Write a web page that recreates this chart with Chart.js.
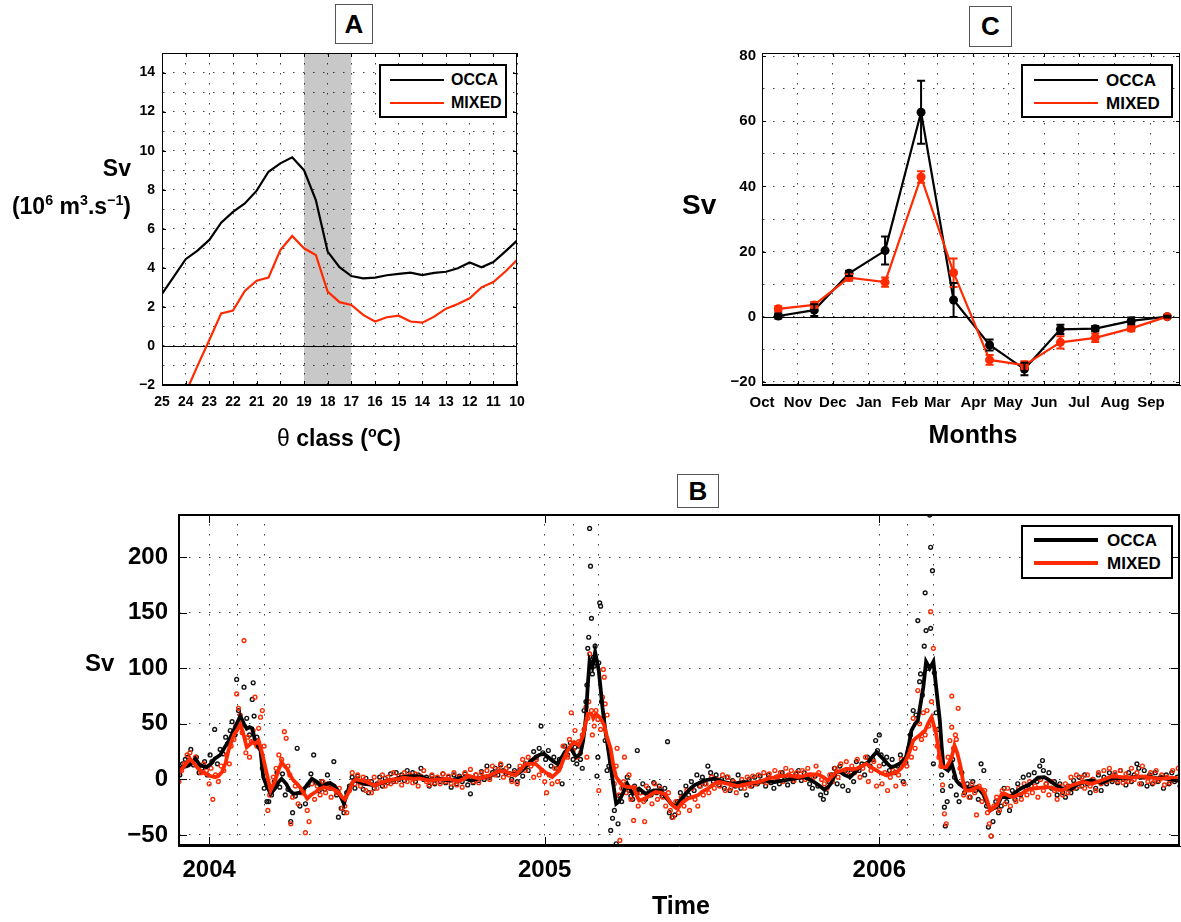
<!DOCTYPE html>
<html><head><meta charset="utf-8">
<script src="https://cdn.jsdelivr.net/npm/chart.js@4.4.0/dist/chart.umd.min.js"></script>
<style>
body{margin:0;background:#fff;}
#wrap{position:relative;width:1181px;height:922px;overflow:hidden;background:#fff;font-family:'Liberation Sans',Arial,Helvetica,sans-serif;font-weight:bold;color:#000;}
canvas{position:absolute;}
.t{position:absolute;white-space:nowrap;line-height:1;}
.t sup{font-size:0.62em;vertical-align:0.62em;line-height:0;}
.tbox{position:absolute;border:1.5px solid #555;background:#fff;box-sizing:border-box;display:flex;align-items:center;justify-content:center;font-size:26px;}
.leg{position:absolute;border:2px solid #000;background:#fff;box-sizing:border-box;}
.ln{position:absolute;}
</style></head>
<body><div id="wrap">
<canvas id="cA" width="540" height="460" style="left:0;top:0"></canvas>
<canvas id="cC" width="501" height="460" style="left:680px;top:0"></canvas>
<canvas id="cB" width="1181" height="462" style="left:0;top:460px"></canvas>
</div>
<script>
// ---------------- DATA ----------------
// Panel A : transport by theta class
const thetaClass = [25,24.5,24,23.5,23,22.5,22,21.5,21,20.5,20,19.5,19,18.5,18,17.5,17,16.5,16,15.5,15,14.5,14,13.5,13,12.5,12,11.5,11,10.5,10];
const occaTheta  = [2.66,3.55,4.44,4.88,5.43,6.31,6.86,7.30,7.95,8.92,9.35,9.66,9.00,7.47,4.83,4.03,3.58,3.46,3.50,3.62,3.69,3.75,3.63,3.74,3.80,3.98,4.27,4.03,4.30,4.83,5.39];
const mixedTheta = [null,null,-2.4,-1.02,0.30,1.67,1.81,2.82,3.34,3.50,4.91,5.63,5.00,4.66,2.78,2.24,2.10,1.59,1.25,1.47,1.55,1.25,1.19,1.50,1.91,2.15,2.44,3.00,3.27,3.80,4.40];
const thetaTicks = [10,11,12,13,14,15,16,17,18,19,20,21,22,23,24,25];
const svTicksA = [-2,-1,0,1,2,3,4,5,6,7,8,9,10,11,12,13,14,15];
const grayBand = [17,19];

// Panel C : monthly climatology (days since 1 Oct)
const monthStart = [0,31,61,92,123,151,182,212,243,273,304,335];
const monthNames = ['Oct','Nov','Dec','Jan','Feb','Mar','Apr','May','Jun','Jul','Aug','Sep'];
const monthMid = [14,45,75,106,137,165,196,226,257,287,318,349];
const occaMonthly  = [0.2,2.0,13.3,20.3,62.8,5.1,-8.7,-16.1,-3.9,-3.7,-1.3,0];
const occaErr      = [0.8,1.8,0.8,4.3,9.7,5.2,1.7,1.9,1.4,0.8,1.0,0.3];
const mixedMonthly = [2.4,3.6,12.0,10.6,42.9,13.5,-13.3,-14.9,-7.9,-6.5,-3.6,0];
const mixedErr     = [0.8,0.9,1.0,1.4,1.8,4.4,1.5,1.2,1.9,1.3,0.9,0.3];
const svTicksC = [-20,-10,0,10,20,30,40,50,60,70,80];

// Panel B : time series (days since 1 Jan 2004)
const yearDays = [0,366,731];
const yearLabels = ['2004','2005','2006'];
const febMarDays = [31,60,397,425,762,790];
const svTicksB = [-50,0,50,100,150,200];

const occaSmoothDays = [-34,-33,-28,-22,-15,-10,-3,2,6,12,17,21,25,30,34,38,41,44,47,50,53,56,59,63,67,72,76,79,84,88,92,99,105,112,117,123,128,132,137,141,147,152,158,163,169,174,180,185,191,196,201,208,216,223,231,236,242,247,253,258,263,268,274,280,285,290,296,302,307,313,318,323,329,334,340,345,350,356,360,365,370,374,380,384,388,394,400,405,408,411,413,415,418,421,425,429,432,436,440,444,447,451,456,462,469,476,485,493,498,504,509,514,518,524,529,535,540,546,551,557,562,568,573,578,584,589,595,600,606,611,617,622,628,633,638,644,649,655,660,666,671,675,678,684,688,693,699,704,710,714,719,723,728,731,735,740,744,748,753,757,760,763,766,770,773,776,779,782,786,790,793,797,799,801,806,810,815,818,823,830,837,841,844,848,852,856,859,864,868,873,878,882,888,893,899,904,911,915,919,925,930,935,941,946,952,957,962,968,973,979,984,990,995,1001,1006,1012,1017,1023,1028,1034,1039,1045,1050,1056,1062];
const occaSmooth = [8,9.6,11,12.6,18.6,12.6,11,14,18.6,22,29,34,41,50,57,50,45.6,47,46,35,30,26,2,-6,-13,-8,-2,0.6,-4,-10,-13,-12,-7,0.6,-2,-7,-4,-3.3,-6,-11,-22,-8.4,-1,-2,-4,-4.5,-5.4,-4,-2.4,-1,-0.3,1.5,2.7,3,2.7,1,-1,0,0.6,-0.5,-1,0,1.5,0.5,-1,0,1.5,2.5,3.6,6,8,6.6,5.5,3.6,7,11,16,20,22,23,20,17,14,19,24.6,29,20,23,35,56,85,107,101,114.6,98,65,45,23,0,-22,-20,-13,-4,-13,-8.4,-13,-10,-10,-16,-22,-25,-19,-14.4,-9,-5.4,-3,-1,0,0.6,-1,-2.4,-3.5,-4,-3,-2.4,-3,-3.3,-2,-1,-2,-2.4,-1.5,-1,0,0.6,1.5,2,0,-2.4,-6,-9.3,-7,-4,6.6,7,4,2,6,11,13,15.6,20,24.6,22,18.6,14,11,12,14,17,20,30,44,50,53,68,83,106,100,106,83,53,30,11,8,14,-1,-4,-7,-8.4,-7,-10,-13,-20,-28,-26,-25,-16,-16,-16,-13,-10,-7,-5.4,-2,1.5,2,0,-2.4,-6,-8.4,-8,-8.4,-5,-2.4,-1.5,-1,-2,-3.3,-1,0.6,1,1.5,1,2,2,1.5,2.5,2,1,1.5,0.5,-0.3,-1,-2.4];

const mixedSmoothDays = [-34,-33,-27,-21,-16,-12,-8,-4,1,6.5,10,14,18,21,24,27,31,34,37,41,44,47,50,54,58,62,67,72,76,79,82,85,88,92,96,99,103,107,111,116,120,125,130,134,138,141,145,148,152,156,160,165,171,176,180,185,190,196,201,207,212,218,223,229,234,240,246,252,257,263,268,273,279,284,290,295,301,306,312,317,323,329,334,340,345,350,356,360,364,369,374,378,382,386,391,395,398,403,408,410,413,417,419,422,426,431,434,438,441,444,449,453,457,463,466,469,473,478,483,487,492,497,501,505,508,511,516,522,527,533,538,544,549,555,560,566,571,577,582,588,593,598,604,609,615,620,626,631,637,642,648,653,659,664,670,675,680,684,690,695,700,706,712,717,722,728,733,739,744,750,755,760,764,768,772,775,778,781,784,788,790,793,796,799,804,807,810,813,816,819,822,825,830,835,839,843,846,849,852,855,859,864,868,873,877,882,886,891,897,902,908,913,919,924,930,935,941,946,952,957,963,968,973,979,984,990,995,1001,1006,1012,1017,1023,1028,1034,1039,1045,1050,1056,1062];
const mixedSmooth = [5,6.6,12,18.6,14,9.6,7,5,3,2,3,6.6,15,26,33,40,45,49.5,42,29,31,33.6,32,35,23,8,-10,-1,9,15.6,12,9.6,4,-1,-4,-7,-12,-17.4,-14,-11.4,-9,-7,-8,-8.4,-10,-11.4,-16,-18,-12,-3,0,-1,-2,-4,-5.4,-4,-2.4,-1,0,0.5,1.5,1,0.5,0.8,0,-1,-0.5,0,0.4,0,-1,-1.5,1,3,1.5,1,2.5,3.6,6,7.5,7,5,3.6,9,14,14,14,11,8,5,2,5,8,17,26,31,33.6,30.6,39.6,48,59,59,55,59,56,48.6,38,27.6,12,2,-4,-6,-7,-7,-14,-19,-18,-16,-13,-11.4,-12,-13,-18,-23,-25,-26.4,-21,-17.4,-16,-14.4,-11,-8.4,-5,-2.4,-3,-4,-5,-6.3,-5,-4,-3,-2.4,-1,0.6,1.5,2.7,3,3.6,3,2,3,4.5,4.5,4.5,2,-1,3,6.6,8,9.6,9,9.6,12,14,11,8,5.5,3.6,5,6.6,10,17,25,35,38,39.6,42,44,50,56,50,41,25,11,11,15,20,30.6,24,14,0,-10,-10,-8,-7,-9,-13,-20,-28,-26,-23.4,-14,-13,-15,-16,-14,-13,-10,-8.4,-8,-7.5,-7,-7.5,-9,-10,-8,-5.4,-4,-2.4,-3,-4,-2.5,-1,1,2.7,2.5,2,1.5,1.5,2,2.7,2,1.5,1,0.6,1,1.5,1,0.6];

const occaDaily = [[-32,4],[-29,14],[-26,18],[-23,20],[-20,27],[-17,13],[-14,20],[-11,6],[-8,10],[-5,16],[-2,4],[1,22],[3,16],[6,45],[9,14],[12,27],[15,23],[18,38],[20,32],[23,44],[25,52],[28,40],[30,90],[32,62],[35,48],[38,83],[41,55],[44,40],[47,72],[48,87],[49,57],[52,38],[55,29],[58,10],[60,-8],[63,-20],[65,-20],[68,-14],[71,-2],[74,6],[77,-7],[80,5],[83,-14],[86,-9],[89,-38],[91,-30],[94,-15],[96,28],[99,-24],[102,-12],[105,-22],[108,-5],[111,5],[114,22],[117,-3],[120,-10],[123,-2],[126,-9],[129,4],[132,-8],[136,16],[139,-14],[141,-34],[144,-26],[147,-30],[150,-12],[153,-6],[156,2],[159,-8],[162,3],[165,-3],[168,-9],[171,1],[174,-12],[177,-2],[180,-8],[183,-4],[186,2],[189,-6],[192,1],[195,-3],[198,5],[201,-2],[204,6],[207,0],[210,4],[213,-1],[216,8],[219,2],[222,6],[225,-2],[228,4],[231,10],[234,0],[237,2],[240,-6],[243,3],[246,-4],[249,1],[252,-2],[255,5],[258,-3],[261,2],[264,-7],[267,4],[270,-4],[273,3],[276,-2],[279,5],[282,-5],[285,-13],[288,-3],[291,4],[294,-1],[297,7],[300,0],[303,12],[306,2],[309,6],[312,10],[315,4],[318,13],[321,8],[324,5],[327,12],[330,0],[333,8],[336,-2],[339,9],[342,3],[345,14],[348,8],[351,16],[354,25],[357,20],[360,28],[362,48],[364,24],[367,18],[370,26],[373,12],[376,20],[379,10],[382,18],[385,-4],[388,30],[391,22],[394,33],[397,18],[399,29],[401,14],[403,30],[405,18],[407,10],[409,62],[411,70],[412,85],[413,118],[414,128],[415,226],[416,192],[417,145],[418,95],[419,110],[420,102],[421,120],[423,3],[424,20],[425,105],[426,159],[427,156],[428,70],[430,55],[432,35],[434,8],[436,12],[438,-46],[440,-35],[442,-28],[444,-58],[446,-40],[448,-15],[450,-20],[452,-8],[454,-5],[456,2],[458,-10],[460,-15],[462,-18],[464,-6],[467,26],[470,-12],[473,-4],[476,-18],[479,-8],[482,-14],[485,-3],[488,-12],[491,-6],[494,-15],[497,-8],[500,34],[502,-30],[505,-34],[508,-32],[511,-20],[514,-12],[517,-16],[520,-6],[523,-14],[526,-2],[529,-10],[532,4],[535,-6],[538,2],[541,-4],[544,12],[547,6],[550,-2],[553,4],[556,-5],[559,0],[562,-8],[565,2],[568,-10],[571,-1],[574,-6],[577,4],[580,-8],[583,-3],[586,-14],[589,0],[592,-6],[595,2],[598,-4],[601,3],[604,-2],[607,-6],[610,4],[613,-3],[616,-8],[619,2],[622,-4],[625,6],[628,0],[631,-5],[634,3],[637,-2],[640,5],[643,8],[646,-1],[649,6],[652,2],[655,-4],[658,-8],[661,3],[664,-6],[667,-14],[670,-18],[673,-12],[676,-2],[679,4],[682,10],[685,-4],[688,12],[691,-6],[694,8],[697,-10],[700,6],[703,-2],[706,16],[709,8],[712,14],[715,4],[718,20],[721,12],[724,18],[727,35],[729,26],[731,40],[733,22],[736,14],[739,20],[742,8],[745,18],[748,6],[751,12],[754,22],[757,-2],[760,15],[763,28],[765,40],[768,62],[771,58],[773,143],[775,88],[776,95],[778,76],[780,120],[781,168],[782,134],[784,100],[786,238],[787,209],[787,136],[789,188],[790,14],[791,96],[793,60],[795,45],[797,22],[799,4],[800,-10],[802,-25],[803,-42],[805,-20],[807,10],[809,-6],[811,18],[813,2],[815,-14],[818,-20],[821,6],[824,-12],[827,-4],[830,-16],[833,-2],[836,-10],[839,-18],[842,14],[845,8],[848,-24],[850,-43],[853,-51],[855,-38],[858,-20],[861,-30],[864,-24],[867,-8],[870,-20],[873,-28],[876,-10],[879,-18],[882,-4],[885,-14],[888,2],[891,-8],[894,4],[897,-6],[900,6],[903,-2],[906,12],[909,17],[910,8],[913,-4],[916,6],[919,-8],[922,-2],[925,-14],[928,-4],[931,-12],[934,-16],[937,-6],[940,-12],[943,-1],[946,-8],[949,2],[952,-6],[955,4],[958,-4],[961,-12],[964,0],[967,-8],[970,4],[973,-10],[976,2],[979,-4],[982,6],[985,-2],[988,4],[991,-3],[994,8],[997,0],[1000,-5],[1003,6],[1006,-2],[1009,4],[1012,14],[1014,10],[1017,-4],[1020,8],[1023,-6],[1026,4],[1029,-4],[1032,6],[1035,-2],[1038,2],[1041,-8],[1044,4],[1047,-4],[1050,6],[1053,-2],[1056,2],[1059,-6]];

const mixedDaily = [[-33,-2],[-30,8],[-27,14],[-24,22],[-21,24],[-18,16],[-15,20],[-12,12],[-9,6],[-6,14],[-3,8],[0,-4],[2,10],[4,-18],[7,4],[10,-2],[13,12],[16,8],[19,22],[22,14],[24,30],[27,36],[29,48],[30,77],[32,64],[34,58],[36,42],[38,125],[40,24],[42,38],[44,20],[46,34],[48,44],[50,74],[52,30],[54,46],[56,56],[58,62],[60,30],[62,-2],[64,-28],[66,-14],[68,-8],[70,2],[73,10],[76,22],[79,18],[82,43],[84,37],[86,12],[88,4],[89,-40],[91,-16],[94,-6],[97,-22],[100,-12],[103,-10],[105,-48],[107,-28],[109,-38],[112,-4],[115,-18],[118,-6],[121,-14],[124,-2],[127,-12],[130,-4],[133,-16],[136,-6],[139,-12],[142,-8],[145,-26],[148,-24],[150,-30],[153,-10],[156,6],[159,-4],[162,4],[165,-6],[168,2],[171,-10],[174,-2],[177,-12],[180,2],[183,-8],[186,-2],[189,4],[192,-6],[195,2],[198,-4],[201,6],[204,-2],[207,3],[210,-5],[213,6],[216,-2],[219,4],[222,-3],[225,5],[228,-6],[231,3],[234,8],[237,-2],[240,-5],[243,4],[246,-3],[249,2],[252,-4],[255,5],[258,-2],[261,3],[264,-4],[267,6],[270,-5],[273,2],[276,-7],[279,6],[282,3],[285,9],[288,-2],[291,4],[294,-3],[297,6],[300,2],[303,8],[306,0],[309,12],[312,4],[315,9],[318,14],[321,2],[324,10],[327,4],[330,-2],[333,6],[336,-4],[339,12],[342,18],[345,8],[348,20],[351,12],[354,2],[357,18],[360,4],[363,8],[366,-2],[368,-12],[371,4],[374,-4],[377,10],[380,-2],[383,12],[386,30],[389,22],[391,20],[393,36],[395,60],[397,26],[399,44],[401,20],[403,34],[405,24],[407,40],[409,45],[411,65],[412,20],[413,55],[414,70],[415,113],[417,62],[418,40],[420,48],[422,62],[424,54],[425,-10],[427,45],[429,74],[430,99],[431,92],[432,68],[434,58],[436,28],[438,16],[440,5],[442,-4],[444,12],[445,28],[447,-14],[448,-55],[450,-8],[452,-2],[453,20],[455,-12],[458,4],[460,-18],[463,-37],[465,-8],[468,-24],[471,-12],[474,-20],[475,-38],[477,-6],[480,-14],[483,-22],[486,-4],[489,-18],[492,-8],[495,-16],[498,-24],[501,-12],[503,-28],[506,-34],[509,-20],[512,-30],[515,-16],[518,-24],[521,-10],[524,-28],[527,-8],[530,-18],[533,-24],[536,-6],[539,-14],[542,-4],[545,-12],[548,2],[551,-8],[554,0],[557,-6],[560,4],[563,-10],[566,2],[569,-8],[572,-2],[575,-12],[578,-4],[581,0],[584,-8],[587,2],[590,-6],[593,3],[596,-4],[599,4],[602,-2],[605,6],[608,-3],[611,5],[614,0],[617,8],[620,2],[623,6],[626,-2],[629,10],[632,4],[635,8],[638,-1],[641,6],[644,2],[647,8],[650,0],[653,10],[656,4],[659,2],[662,12],[665,6],[668,0],[671,-4],[674,-8],[677,4],[680,-2],[683,10],[686,2],[689,14],[692,6],[695,16],[698,4],[701,12],[704,6],[707,18],[710,2],[713,10],[716,20],[719,-2],[722,8],[725,16],[728,-6],[731,12],[734,-4],[737,6],[740,-10],[743,2],[746,8],[749,-6],[752,4],[755,18],[758,-4],[761,12],[764,30],[766,20],[768,55],[770,28],[773,80],[775,50],[777,36],[779,60],[781,40],[783,62],[785,48],[787,151],[788,70],[790,118],[792,45],[794,30],[796,20],[798,12],[800,-5],[802,-31],[804,-40],[806,20],[808,35],[810,75],[810,47],[812,28],[814,40],[815,36],[817,64],[819,10],[821,-4],[823,-14],[826,-8],[829,-16],[832,-4],[835,-12],[837,-32],[840,-6],[843,-20],[846,-10],[849,-30],[851,-40],[853,-51],[856,-24],[859,-16],[862,-28],[865,-10],[868,-22],[871,-8],[874,-24],[877,-14],[880,-20],[883,-8],[886,-18],[889,-4],[892,-14],[895,-2],[898,-12],[901,-6],[904,-16],[907,0],[910,-10],[913,-4],[916,-14],[919,-2],[922,-10],[925,-18],[928,-6],[931,-14],[934,-4],[937,-12],[940,2],[943,-8],[946,4],[949,-6],[952,2],[955,-8],[958,4],[961,-6],[964,0],[967,-10],[970,6],[973,-4],[976,8],[979,-2],[982,10],[985,0],[988,6],[991,-2],[994,8],[997,-3],[1000,5],[1003,-2],[1006,10],[1009,0],[1012,6],[1015,-4],[1018,12],[1021,2],[1024,-2],[1027,6],[1030,-3],[1033,8],[1036,-1],[1039,4],[1042,-5],[1045,2],[1048,-3],[1051,8],[1054,0],[1057,10]];

// ---------------- STYLE / HELPERS ----------------
const FONT = "'Liberation Sans', Arial, Helvetica, sans-serif";
const RED = '#ff2a00';
const BLK = '#000000';
const GRIDC = 'rgba(0,0,0,0.75)';
const DASH = [1.5, 8.5];

const framePlugin = {
  id: 'frame',
  beforeDraw(chart, args, o) {
    const {ctx, chartArea: a} = chart;
    ctx.save();
    ctx.fillStyle = '#fff';
    ctx.fillRect(0, 0, chart.width, chart.height);
    if (o.band) {
      const xs = chart.scales.x;
      const p1 = xs.getPixelForValue(o.band[0]), p2 = xs.getPixelForValue(o.band[1]);
      ctx.fillStyle = '#c8c8c8';
      ctx.fillRect(Math.min(p1, p2), a.top, Math.abs(p2 - p1), a.bottom - a.top);
    }
    ctx.restore();
  },
  beforeDatasetsDraw(chart, args, o) {
    if (!o.zero) return;
    const {ctx, chartArea: a} = chart;
    const y = Math.round(chart.scales.y.getPixelForValue(0)) + 0.5;
    ctx.save();
    ctx.strokeStyle = '#000'; ctx.lineWidth = 1;
    ctx.beginPath(); ctx.moveTo(a.left, y); ctx.lineTo(a.right, y); ctx.stroke();
    ctx.restore();
  },
  afterDatasetsDraw(chart, args, o) {
    if (!o.err) return;
    const {ctx} = chart;
    const ys = chart.scales.y;
    o.err.forEach(e => {
      const meta = chart.getDatasetMeta(e.ds);
      const vals = chart.data.datasets[e.ds].data;
      ctx.save();
      ctx.strokeStyle = e.color; ctx.lineWidth = 2;
      meta.data.forEach((pt, i) => {
        const v = vals[i].y, d = e.errs[i];
        const yt = ys.getPixelForValue(v + d), yb = ys.getPixelForValue(v - d);
        ctx.beginPath();
        ctx.moveTo(pt.x, yt); ctx.lineTo(pt.x, yb);
        ctx.moveTo(pt.x - 4, yt); ctx.lineTo(pt.x + 4, yt);
        ctx.moveTo(pt.x - 4, yb); ctx.lineTo(pt.x + 4, yb);
        ctx.stroke();
      });
      ctx.restore();
    });
  },
  afterDraw(chart, args, o) {
    const {ctx, chartArea: a} = chart;
    ctx.save();
    ctx.strokeStyle = '#000';
    ctx.lineWidth = o.lw || 1;
    const h = (o.lw || 1) / 2;
    ctx.strokeRect(a.left + h, a.top + h, a.right - a.left - 2 * h, a.bottom - a.top - 2 * h);
    ctx.lineWidth = 1;
    const L = o.tickLen || 5;
    ctx.beginPath();
    (o.xTicks || []).forEach(v => {
      const x = Math.round(chart.scales.x.getPixelForValue(v)) + 0.5;
      ctx.moveTo(x, a.bottom); ctx.lineTo(x, a.bottom - L);
      ctx.moveTo(x, a.top); ctx.lineTo(x, a.top + L);
    });
    (o.yTicks || []).forEach(v => {
      const y = Math.round(chart.scales.y.getPixelForValue(v)) + 0.5;
      ctx.moveTo(a.left, y); ctx.lineTo(a.left + L, y);
      ctx.moveTo(a.right, y); ctx.lineTo(a.right - L, y);
    });
    ctx.stroke();
    ctx.restore();
  }
};

function axis(min, max, tickVals, labelFn, fontSize, pad, fixedSize, isX, reverse) {
  return {
    type: 'linear', min, max, reverse: !!reverse,
    afterBuildTicks: s => { s.ticks = tickVals.map(v => ({value: v})); },
    ticks: {
      autoSkip: false, maxRotation: 0, padding: pad, color: '#000',
      font: {family: FONT, size: fontSize, weight: 'bold'},
      callback: v => labelFn(v)
    },
    grid: {color: GRIDC, lineWidth: 1, drawTicks: false},
    border: {display: true, color: '#000', width: 1, dash: DASH},
    afterFit: s => { if (isX) s.height = fixedSize; else s.width = fixedSize; }
  };
}

function baseOpts(padding, scales, frame) {
  return {
    responsive: false, animation: false, devicePixelRatio: 1,
    layout: {autoPadding: false, padding},
    plugins: {legend: {display: false}, title: {display: false}, tooltip: {enabled: false}, frame},
    scales
  };
}

// ---------------- PANEL A ----------------
new Chart(document.getElementById('cA'), {
  type: 'line',
  data: {datasets: [
    {label: 'MIXED', data: thetaClass.map((x, i) => ({x, y: mixedTheta[i]})), borderColor: RED, borderWidth: 2.2, pointRadius: 0, tension: 0},
    {label: 'OCCA', data: thetaClass.map((x, i) => ({x, y: occaTheta[i]})), borderColor: BLK, borderWidth: 2.2, pointRadius: 0, tension: 0}
  ]},
  options: baseOpts({left: 112, right: 23, top: 53, bottom: 35}, {
    x: axis(10, 25, thetaTicks, v => String(v), 14, 9, 40, true, true),
    y: axis(-2, 15, svTicksA, v => (v % 2 === 0 ? String(v).replace('-', '\u2212') : ''), 14, 7, 50, false)
  }, {band: grayBand, zero: true, lw: 1, tickLen: 4, xTicks: thetaTicks, yTicks: svTicksA.filter(v => v % 2 === 0)}),
  plugins: [framePlugin]
});

// ---------------- PANEL C ----------------
new Chart(document.getElementById('cC'), {
  type: 'line',
  data: {datasets: [
    {label: 'MIXED', data: monthMid.map((x, i) => ({x, y: mixedMonthly[i]})), borderColor: RED, backgroundColor: RED, borderWidth: 2.2, pointRadius: 4.5, pointBorderWidth: 0, tension: 0},
    {label: 'OCCA', data: monthMid.map((x, i) => ({x, y: occaMonthly[i]})), borderColor: BLK, backgroundColor: BLK, borderWidth: 2.2, pointRadius: 4.5, pointBorderWidth: 0, tension: 0}
  ]},
  options: baseOpts({left: 32, right: 1, top: 53, bottom: 35}, {
    x: axis(0, 360, monthStart, v => monthNames[monthStart.indexOf(v)] || '', 15, 9, 40, true),
    y: axis(-21, 81, svTicksC, v => (v % 20 === 0 ? String(v).replace('-', '\u2212') : ''), 15, 6, 50, false)
  }, {zero: true, lw: 1, tickLen: 4, xTicks: monthStart, yTicks: svTicksC.filter(v => v % 20 === 0),
      err: [{ds: 0, errs: mixedErr, color: RED}, {ds: 1, errs: occaErr, color: BLK}]}),
  plugins: [framePlugin]
});

// ---------------- PANEL B ----------------
const bTicks = yearDays.concat(febMarDays).sort((a, b) => a - b);
new Chart(document.getElementById('cB'), {
  type: 'line',
  data: {datasets: [
    {label: 'MIXED', data: mixedSmoothDays.map((x, i) => ({x, y: mixedSmooth[i]})), borderColor: RED, borderWidth: 3.8, pointRadius: 0, tension: 0, order: 0},
    {label: 'OCCA', data: occaSmoothDays.map((x, i) => ({x, y: occaSmooth[i]})), borderColor: BLK, borderWidth: 3.8, pointRadius: 0, tension: 0, order: 1},
    {label: 'MIXED daily', data: mixedDaily.map(p => ({x: p[0], y: p[1]})), showLine: false, pointRadius: 1.9, pointBorderWidth: 1.4, pointBorderColor: RED, pointBackgroundColor: 'rgba(255,255,255,0)', order: 2},
    {label: 'OCCA daily', data: occaDaily.map(p => ({x: p[0], y: p[1]})), showLine: false, pointRadius: 1.9, pointBorderWidth: 1.4, pointBorderColor: '#111', pointBackgroundColor: 'rgba(255,255,255,0)', order: 3}
  ]},
  options: baseOpts({left: 118, right: 1, top: 54, bottom: 36}, {
    x: axis(-34, 1059, bTicks, v => { const k = yearDays.indexOf(v); return k >= 0 ? yearLabels[k] : ''; }, 24, 10, 40, true),
    y: axis(-60, 239, svTicksB, v => String(v).replace('-', '\u2212'), 24, 10, 60, false)
  }, {lw: 2, tickLen: 9, xTicks: yearDays, yTicks: svTicksB}),
  plugins: [framePlugin]
});

// ---------------- TEXT OVERLAYS ----------------
const wrap = document.getElementById('wrap');
function txt(html, x, y, size, align, extra) {
  const d = document.createElement('div');
  d.className = 't';
  d.innerHTML = html;
  d.style.left = x + 'px'; d.style.top = y + 'px'; d.style.fontSize = size + 'px';
  const tx = align === 'center' ? '-50%' : (align === 'right' ? '-100%' : '0');
  d.style.transform = 'translate(' + tx + ',-50%)';
  if (extra) Object.assign(d.style, extra);
  wrap.appendChild(d);
}
function tbox(letter, x, y, w, h) {
  const d = document.createElement('div');
  d.className = 'tbox'; d.textContent = letter;
  Object.assign(d.style, {left: x + 'px', top: y + 'px', width: w + 'px', height: h + 'px'});
  wrap.appendChild(d);
}
function legend(x, y, w, h, lx1, lx2, tx, rows, fs, lw) {
  const d = document.createElement('div');
  d.className = 'leg';
  Object.assign(d.style, {left: x + 'px', top: y + 'px', width: w + 'px', height: h + 'px'});
  wrap.appendChild(d);
  rows.forEach(r => {
    const l = document.createElement('div');
    l.className = 'ln';
    Object.assign(l.style, {left: lx1 + 'px', top: (r.y - lw / 2) + 'px', width: (lx2 - lx1) + 'px', height: lw + 'px', background: r.color});
    wrap.appendChild(l);
    txt(r.label, tx, r.y, fs, 'left');
  });
}

// Panel A texts
tbox('A', 335, 4, 38, 40);
txt('Sv', 131, 168, 23, 'right');
txt('(10<sup>6</sup> m<sup>3</sup>.s<sup>\u22121</sup>)', 131, 206, 23, 'right');
txt('<span style="font-weight:normal">\u03B8</span> class (<sup>o</sup>C)', 339, 438, 23, 'center');
legend(379, 64, 128, 54, 390, 444, 451, [{y: 80, color: BLK, label: 'OCCA'}, {y: 103, color: RED, label: 'MIXED'}], 16, 2.5);

// Panel C texts
tbox('C', 969, 6, 43, 41);
txt('Sv', 682, 205, 28, 'left');
txt('Months', 973, 434, 25, 'center');
legend(1021, 64, 152, 54, 1034, 1098, 1106, [{y: 80, color: BLK, label: 'OCCA'}, {y: 103, color: RED, label: 'MIXED'}], 17, 2.5);

// Panel B texts
tbox('B', 677, 474, 42, 34);
txt('Sv', 85, 663, 24, 'left');
txt('Time', 681, 905, 25, 'center');
legend(1021, 525, 152, 54, 1034, 1098, 1107, [{y: 540, color: BLK, label: 'OCCA'}, {y: 563, color: RED, label: 'MIXED'}], 17, 3.5);
</script>
</body></html>
